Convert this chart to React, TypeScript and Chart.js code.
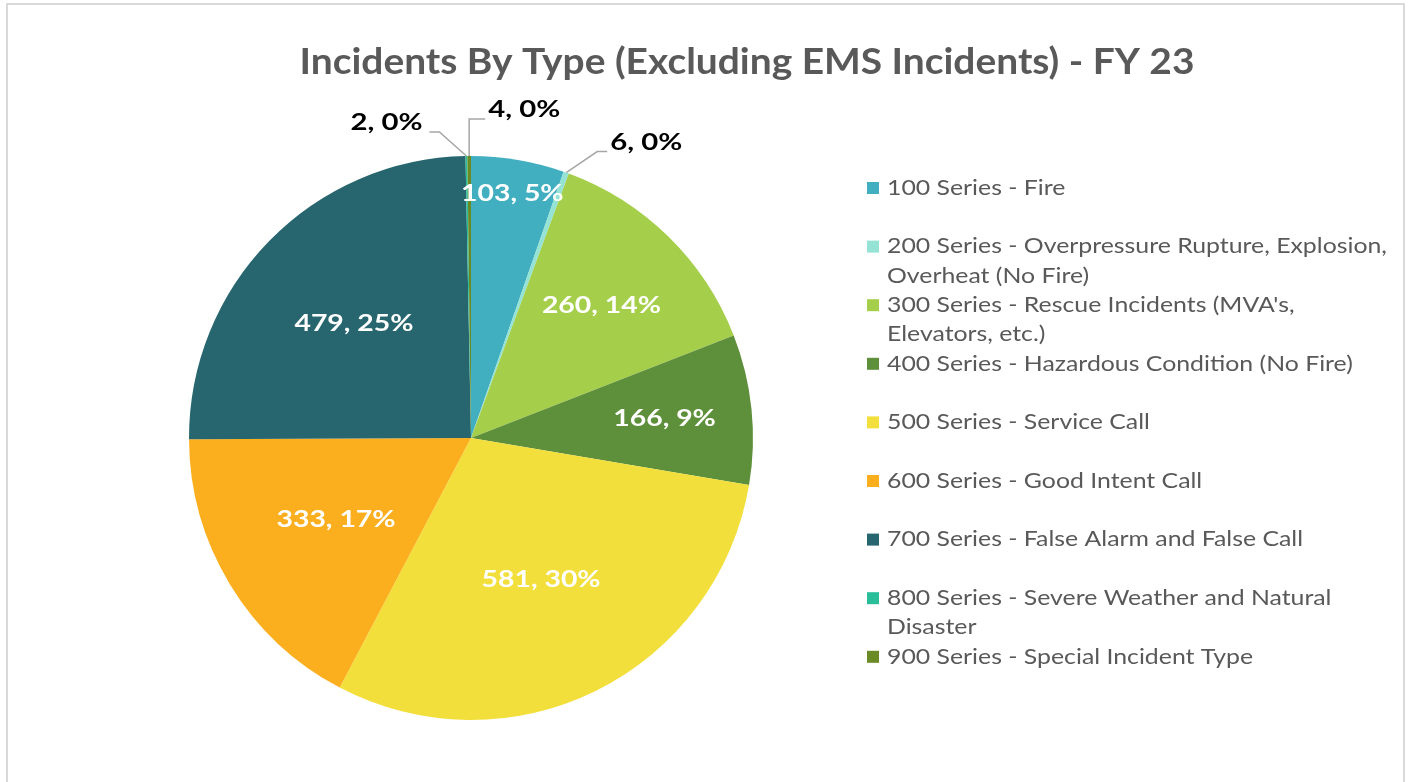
import React, { useEffect, useRef } from "react";
import { Chart, registerables } from "chart.js";

Chart.register(...registerables);

const chartTitle = "Incidents By Type (Excluding EMS Incidents) - FY 23";

const categories: string[][] = [
  ["100 Series - Fire"],
  ["200 Series - Overpressure Rupture, Explosion,", "Overheat (No Fire)"],
  ["300 Series - Rescue Incidents (MVA's,", "Elevators, etc.)"],
  ["400 Series - Hazardous Condition (No Fire)"],
  ["500 Series - Service Call"],
  ["600 Series - Good Intent Call"],
  ["700 Series - False Alarm and False Call"],
  ["800 Series - Severe Weather and Natural", "Disaster"],
  ["900 Series - Special Incident Type"],
];

const counts = [103, 6, 260, 166, 581, 333, 479, 2, 4];

const sliceColors = [
  "#42afc0",
  "#94e3d5",
  "#a5cf4a",
  "#5e8f3a",
  "#f3df3b",
  "#fbaf1f",
  "#27666f",
  "#29bd9a",
  "#6a8a26",
];

// label styling: inside radius fraction, or outside callout (elbow offset, tail)
const insideLabelRadius = [0.88, 0, 0.66, 0.69, 0.56, 0.56, 0.58, 0, 0];
const callouts: Record<number, { dx: number; dy: number; tail: number }> = {
  1: { dx: 31, dy: -21, tail: 10 },
  7: { dx: -27, dy: -24, tail: -10 },
  8: { dx: 0, dy: -37, tail: 16 },
};

const FONT = "Lato, 'Open Sans', sans-serif";

function percentLabels(values: number[]): number[] {
  const total = values.reduce((a, b) => a + b, 0);
  const raw = values.map((v) => (v / total) * 100);
  const fl = raw.map((r) => Math.floor(r));
  let rest = 100 - fl.reduce((a, b) => a + b, 0);
  const order = raw
    .map((r, i) => ({ i, rem: r - Math.floor(r) }))
    .sort((a, b) => b.rem - a.rem);
  for (let k = 0; k < order.length && rest > 0; k++, rest--) fl[order[k].i] += 1;
  return fl;
}

function drawScaled(
  ctx: CanvasRenderingContext2D,
  text: string,
  x: number,
  y: number,
  sx: number,
  align: CanvasTextAlign
) {
  ctx.save();
  ctx.translate(x, y);
  ctx.scale(sx, 1);
  ctx.textAlign = align;
  ctx.fillText(text, 0, 0);
  ctx.restore();
}

function scaleFor(ctx: CanvasRenderingContext2D, font: string, sample: string, target: number) {
  ctx.font = font;
  const w = ctx.measureText(sample).width;
  return Math.min(1.35, target / w);
}

const overlayPlugin = {
  id: "overlay",
  afterDraw(chart: any) {
    const ctx: CanvasRenderingContext2D = chart.ctx;
    const meta = chart.getDatasetMeta(0);
    const values: number[] = chart.data.datasets[0].data;
    const pcts = percentLabels(values);
    const colors: string[] = chart.data.datasets[0].backgroundColor;
    const labels: string[][] = chart.data.labels;

    ctx.save();
    ctx.textBaseline = "middle";

    // title
    const titleFont = `bold 36px ${FONT}`;
    const tsx = scaleFor(ctx, titleFont, chartTitle, 895);
    ctx.font = titleFont;
    ctx.fillStyle = "#595959";
    drawScaled(ctx, chartTitle, 747, 62, tsx, "center");

    // legend
    const legFont = `21px ${FONT}`;
    const lsx = scaleFor(ctx, legFont, "200 Series - Overpressure Rupture, Explosion,", 500);
    ctx.font = legFont;
    const slot = 29.3;
    const top = 188;
    labels.forEach((lines, i) => {
      const y0 = top + i * 2 * slot;
      ctx.fillStyle = colors[i];
      ctx.fillRect(867, y0 - 6, 12, 12);
      ctx.fillStyle = "#595959";
      lines.forEach((ln, j) => {
        drawScaled(ctx, ln, 887, y0 + j * slot, lsx, "left");
      });
    });

    // data labels
    const labFont = `bold 23px ${FONT}`;
    const dsx = scaleFor(ctx, labFont, "479, 25%", 119);
    const osx = scaleFor(ctx, labFont, "6, 0%", 72);
    ctx.font = labFont;
    meta.data.forEach((arc: any, i: number) => {
      const p = arc.getProps(["x", "y", "startAngle", "endAngle", "outerRadius"], true);
      const mid = (p.startAngle + p.endAngle) / 2;
      const text = `${values[i]}, ${pcts[i]}%`;
      const c = callouts[i];
      if (c) {
        const ex = p.x + Math.cos(mid) * p.outerRadius;
        const ey = p.y + Math.sin(mid) * p.outerRadius;
        const bx = ex + c.dx;
        const by = ey + c.dy;
        const tx = bx + c.tail;
        ctx.strokeStyle = "#a6a6a6";
        ctx.lineWidth = 1.5;
        ctx.beginPath();
        ctx.moveTo(ex, ey);
        ctx.lineTo(bx, by);
        ctx.lineTo(tx, by);
        ctx.stroke();
        ctx.fillStyle = "#000000";
        const right = c.tail > 0;
        drawScaled(ctx, text, tx + (right ? 3 : -7), by - 9, osx, right ? "left" : "right");
      } else {
        const r = p.outerRadius * insideLabelRadius[i];
        const lx = p.x + Math.cos(mid) * r;
        const ly = p.y + Math.sin(mid) * r;
        ctx.fillStyle = "#ffffff";
        drawScaled(ctx, text, lx, ly, dsx, "center");
      }
    });
    ctx.restore();
  },
};

export default function App() {
  const canvasRef = useRef<HTMLCanvasElement | null>(null);

  useEffect(() => {
    const canvas = canvasRef.current;
    if (!canvas) return;
    const chart = new Chart(canvas, {
      type: "pie",
      data: {
        labels: categories as any,
        datasets: [
          {
            data: counts,
            backgroundColor: sliceColors,
            borderWidth: 0,
          },
        ],
      },
      options: {
        animation: false,
        responsive: false,
        maintainAspectRatio: false,
        devicePixelRatio: 1,
        layout: { padding: { left: 189, right: 658, top: 156, bottom: 62 } },
        plugins: {
          legend: { display: false },
          title: { display: false },
          tooltip: { enabled: false },
        },
      },
      plugins: [overlayPlugin],
    });
    return () => chart.destroy();
  }, []);

  return (
    <>
      <div
        style={{
          position: "fixed",
          left: 6,
          top: 3,
          right: 6,
          bottom: -10,
          border: "2px solid #d9d9d9",
          background: "#ffffff",
        }}
      />
      <canvas
        ref={canvasRef}
        width={1411}
        height={782}
        style={{ position: "fixed", left: 0, top: 0, width: 1411, height: 782 }}
      />
    </>
  );
}
